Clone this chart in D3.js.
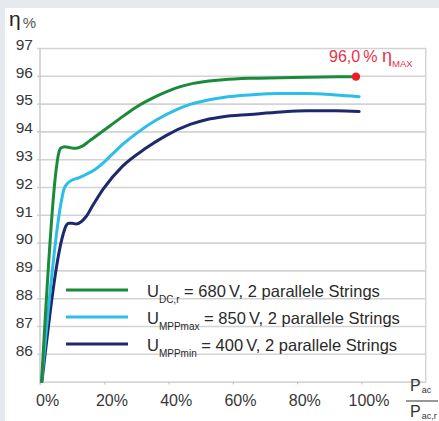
<!DOCTYPE html>
<html><head><meta charset="utf-8">
<script src="https://cdn.jsdelivr.net/npm/d3@7"></script>
<style>
body{margin:0;background:#e6eaee;}
svg{display:block;font-family:"Liberation Sans",Arial,Helvetica,sans-serif;}
</style></head>
<body><svg id="c" width="439" height="421"></svg>
<script>
// ---- data ----
const yTicks = [86,87,88,89,90,91,92,93,94,95,96,97];
const xTicks = [0,0.2,0.4,0.6,0.8,1.0];
const xGreen = [0.005,0.05,0.057,0.065,0.077,0.095,0.112,0.13,0.153,0.2,0.259,0.3,0.363,0.42,0.467,0.52,0.57,0.653,0.75,0.83,0.983];
const yGreen = [85,92.6,93.15,93.4,93.45,93.41,93.39,93.46,93.65,94.05,94.55,94.88,95.27,95.55,95.7,95.8,95.86,95.91,95.93,95.95,95.97];
const xLight = [0.005,0.065,0.074,0.085,0.1,0.12,0.143,0.17,0.195,0.225,0.257,0.3,0.363,0.42,0.467,0.52,0.57,0.653,0.75,0.83,0.92,0.993];
const yLight = [85,91.4,91.9,92.12,92.25,92.33,92.45,92.62,92.85,93.18,93.53,93.93,94.42,94.76,94.97,95.12,95.22,95.31,95.36,95.36,95.31,95.25];
const xNavy = [0.006,0.072,0.08,0.09,0.1,0.112,0.128,0.143,0.165,0.197,0.257,0.33,0.392,0.467,0.52,0.57,0.653,0.75,0.83,0.92,0.993];
const yNavy = [85,90.3,90.58,90.7,90.7,90.67,90.75,90.93,91.35,91.93,92.75,93.4,93.85,94.25,94.43,94.53,94.61,94.7,94.74,94.74,94.72];
const maxPoint = [0.983, 95.97];
const series = [
  {sub:"DC,r", rest:" = 680\u2009V, 2 parallele Strings", color:"#1b8a3b", xs:xGreen, ys:yGreen},
  {sub:"MPPmax", rest:" = 850\u2009V, 2 parallele Strings", color:"#2cbde9", xs:xLight, ys:yLight},
  {sub:"MPPmin", rest:" = 400\u2009V, 2 parallele Strings", color:"#1c2a6c", xs:xNavy, ys:yNavy}
];

const svg = d3.select("#c");
svg.append("rect").attr("x",5).attr("y",8).attr("width",434).attr("height",413).attr("fill","#fff");

const x = d3.scaleLinear().domain([0,1.2]).range([40,425.7]);
const y = d3.scaleLinear().domain([85,97]).range([381.6,48]);

// grid lines
const grid = svg.append("g").attr("transform","translate(37,0)")
  .call(d3.axisRight(y).tickValues(yTicks).tickSize(x(1.2)-37).tickFormat(""));
grid.select(".domain").remove();
grid.selectAll("line").attr("stroke","#d3d3d3").attr("stroke-width",1.6);

// y labels
const yl = svg.append("g").attr("transform","translate(33,0)")
  .call(d3.axisLeft(y).tickValues(yTicks).tickSize(0).tickPadding(0));
yl.select(".domain").remove();
yl.selectAll("text").attr("font-size",15.5).attr("fill","#383838").attr("dy","0.08em")
  .style("font-family","'Liberation Sans',Arial,sans-serif");

// axis frame
svg.append("line").attr("x1",40).attr("x2",40).attr("y1",y(97)).attr("y2",y(85)+3).attr("stroke","#c6c6c6").attr("stroke-width",1.4);
svg.append("line").attr("x1",x(1.2)).attr("x2",x(1.2)).attr("y1",y(97)).attr("y2",y(85)).attr("stroke","#d3d3d3").attr("stroke-width",1.4);

const xa = svg.append("g").attr("transform",`translate(0,${y(85)})`)
  .call(d3.axisBottom(x).tickValues(xTicks).tickSize(3).tickSizeOuter(0).tickPadding(10.5)
    .tickFormat(d=>Math.round(d*100)+"%"));
xa.select(".domain").attr("stroke","#c6c6c6").attr("stroke-width",1.4);
xa.selectAll("line").attr("stroke","#c6c6c6").attr("stroke-width",1.2);
xa.selectAll("text").attr("font-size",16).attr("fill","#383838")
  .style("font-family","'Liberation Sans',Arial,sans-serif")
  .attr("text-anchor","start")
  .each(function(d){
    const t=d3.select(this);
    const num=String(Math.round(d*100));
    const tmp=svg.append("text").attr("font-size",16).style("font-family","'Liberation Sans',Arial,sans-serif").text(num);
    const w=tmp.node().getComputedTextLength(); tmp.remove();
    t.attr("x",-w/2);
  });

// curves
const line = d3.line().x(d=>x(d[0])).y(d=>y(d[1])).curve(d3.curveMonotoneX);
[2,1,0].forEach(i=>{
  const s=series[i];
  svg.append("path").datum(s.xs.map((v,j)=>[v,s.ys[j]]))
    .attr("d",line).attr("fill","none").attr("stroke",s.color).attr("stroke-width",3).attr("stroke-linecap","round");
});

// max point
svg.append("circle").attr("cx",x(maxPoint[0])).attr("cy",y(maxPoint[1])).attr("r",4.2).attr("fill","#ee1c25");
const ann = svg.append("text").attr("x",329).attr("y",62).attr("fill","#e5334b").attr("font-size",16);
ann.append("tspan").text("96,0\u2009% ");
ann.append("tspan").attr("font-size",18).text("η");
ann.append("tspan").attr("font-size",9.5).attr("dy",4.5).text("MAX");

// axis title
const at = svg.append("text").attr("x",9).attr("y",26).attr("fill","#222");
at.append("tspan").attr("font-size",21).text("η");
at.append("tspan").attr("font-size",15).attr("fill","#555").attr("dx",2).attr("dy",1.5).text("%");

// legend
const ly=[290,317,344];
series.forEach((s,i)=>{
  svg.append("line").attr("x1",66).attr("x2",128).attr("y1",ly[i]).attr("y2",ly[i]).attr("stroke",s.color).attr("stroke-width",3);
  const t=svg.append("text").attr("x",147).attr("y",ly[i]+7.3).attr("font-size",16.5).attr("fill","#2a2a2a");
  t.append("tspan").text("U");
  t.append("tspan").attr("font-size",10).attr("dy",5.5).text(s.sub);
  t.append("tspan").attr("dy",-5.5).text(s.rest);
});

// fraction P_ac / P_ac,r
const fr = svg.append("g").attr("fill","#333");
const t1=fr.append("text").attr("x",410).attr("y",391).attr("font-size",16);
t1.append("tspan").text("P");
t1.append("tspan").attr("font-size",9).attr("dy",2).attr("dx",1).text("ac");
fr.append("line").attr("x1",406).attr("x2",438).attr("y1",401).attr("y2",401).attr("stroke","#333").attr("stroke-width",1);
const t2=fr.append("text").attr("x",410).attr("y",416.5).attr("font-size",16);
t2.append("tspan").text("P");
t2.append("tspan").attr("font-size",9).attr("dy",2.5).attr("dx",1).text("ac,r");
</script></body></html>
